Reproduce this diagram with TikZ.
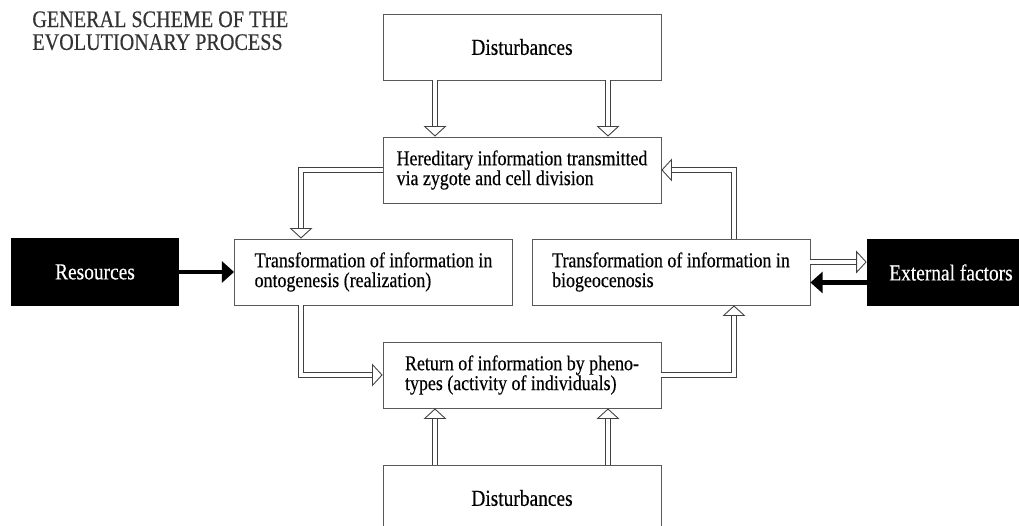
\documentclass[tikz,border=0pt]{standalone}
\usepackage{fontspec}
\setmainfont{Liberation Serif}[FakeStretch=0.85, FakeBold=0.35]
\usetikzlibrary{arrows.meta}

\tikzset{
    box/.style={draw=black!65, line width=0.5pt, minimum width=5.56cm, minimum height=1.32cm,
        inner sep=0pt, align=left, font=\fontsize{12}{11.3}\selectfont},
    distbox/.style={draw=black!65, line width=0.5pt, minimum width=5.56cm, minimum height=1.32cm,
        inner sep=0pt, font=\fontsize{13}{13}\selectfont},
    blackbox/.style={fill=black, text=white, minimum width=3.36cm, minimum height=1.36cm,
        inner sep=0pt, font=\fontsize{13}{13}\selectfont},
    hollow/.style={draw=black!75, line width=0.5pt, double=white, double distance=2.4pt,
        -{Triangle[open, length=6pt, width=13pt]}},
    heavy/.style={line width=2.8pt, -{Triangle[length=7pt, width=12pt]}}
}

\begin{document}
\begin{tikzpicture}[x=0.02cm, y=-0.02cm]
  \useasboundingbox (0,0) rectangle (1019,526);
  \clip (0,0) rectangle (1019,526);

  % title
  \node[anchor=north west, inner sep=0pt, align=left, text=black!80,
        font=\fontsize{13.5}{13}\selectfont] (title) at (32,11)
    {GENERAL SCHEME OF THE\\EVOLUTIONARY PROCESS};

  % boxes
  \node[distbox] (topdist) at (522,47) {Disturbances};
  \node[box] (hered) at (522,170) {Hereditary information transmitted\\via zygote and cell division};
  \node[box] (onto) at (373.5,272) {Transformation of information in\\ontogenesis (realization)};
  \node[box] (biogeo) at (671,272) {Transformation of information in\\biogeocenosis\phantom{g}};
  \node[box] (ret) at (522,375) {Return of information by pheno-\\types (activity of individuals)};
  \node[distbox] (botdist) at (522,498) {Disturbances};
  \node[blackbox] (res) at (95,272) {Resources};
  \node[blackbox] (ext) at (951,272.5) {External factors};

  % x positions of the bent and parallel connectors
  \coordinate (lx) at (435,0);
  \coordinate (rx) at (608,0);
  \coordinate (ox) at (301,0);
  \coordinate (bx) at (734,0);

  % information flow
  \draw[hollow] (topdist.south -| lx) -- (hered.north -| lx);
  \draw[hollow] (topdist.south -| rx) -- (hered.north -| rx);
  \draw[hollow] (hered.west) -| (onto.north -| ox);
  \draw[hollow] (onto.south -| ox) |- (ret.west);
  \draw[hollow] (ret.east) -| (biogeo.south -| bx);
  \draw[hollow] (biogeo.north -| bx) |- (hered.east);
  \draw[hollow] (botdist.north -| lx) -- (ret.south -| lx);
  \draw[hollow] (botdist.north -| rx) -- (ret.south -| rx);
  \draw[hollow] ([yshift=0.2cm]biogeo.east) -- ([yshift=0.2cm]biogeo.east -| ext.west);

  % resources and external factors
  \draw[heavy] (res.east) -- (onto.west);
  \draw[heavy] ([yshift=-0.2cm]ext.west) -- ([yshift=-0.2cm]ext.west -| biogeo.east);
\end{tikzpicture}
\end{document}
